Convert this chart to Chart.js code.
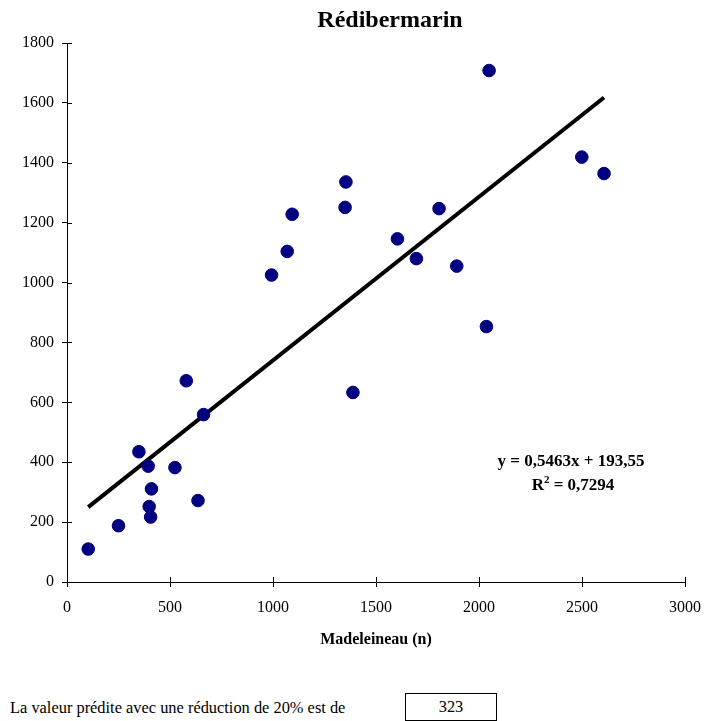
<!DOCTYPE html>
<html lang="fr">
<head>
<meta charset="UTF-8">
<title>Rédibermarin</title>
<script src="https://cdn.jsdelivr.net/npm/chart.js@4.4.0/dist/chart.umd.min.js"></script>
<style>
    body { margin: 0; background: #fff; font-family: "Liberation Serif", "Times New Roman", serif; }
    .wrap { position: relative; width: 708px; height: 721px; }
    .chart-box { position: absolute; left: 0; top: 0; width: 708px; height: 680px; }
    .pred { position: absolute; left: 10px; top: 698px; font-size: 16.4px; color: #000; }
    .pred-box { position: absolute; left: 405px; top: 693px; width: 90px; height: 26px; border: 1px solid #000;
                font-size: 16.4px; text-align: center; line-height: 26px; }
</style>
</head>
<body>
<div class="wrap">
    <div class="chart-box"><canvas id="chart"></canvas></div>
    <div class="pred">La valeur prédite avec une réduction de 20% est de</div>
    <div class="pred-box">323</div>
</div>
<script>
// données
const madeleineau = [103, 250, 349, 394, 410, 399, 406, 524, 579, 636, 663, 993, 1069, 1093, 1350, 1354, 1388, 1604, 1696, 1806, 1892, 2036, 2049, 2499, 2607];
const redibermarin = [110, 188, 435, 387, 311, 252, 217, 382, 672, 272, 559, 1025, 1104, 1228, 1251, 1336, 633, 1146, 1080, 1247, 1055, 853, 1708, 1419, 1364];
// droite de tendance (extrémités)
const trendX = [103, 2607];
const trendY = [250, 1618];
const equation = 'y = 0,5463x + 193,55';
const r2Text = ' = 0,7294';

const FONT = '"Liberation Serif", "Times New Roman", serif';

// titre, titre d'axe, équation et petits traits intérieurs
const extras = {
    id: 'extras',
    afterDraw(chart) {
        const ctx = chart.ctx;
        const xs = chart.scales.x, ys = chart.scales.y;
        ctx.save();
        ctx.strokeStyle = '#000';
        ctx.lineWidth = 1;
        ctx.beginPath();
        xs.ticks.forEach(t => {
            const px = Math.round(xs.getPixelForValue(t.value)) + 0.5;
            ctx.moveTo(px, ys.bottom);
            ctx.lineTo(px, ys.bottom - 5);
        });
        ys.ticks.forEach(t => {
            const py = Math.round(ys.getPixelForValue(t.value)) + 0.5;
            ctx.moveTo(xs.left, py);
            ctx.lineTo(xs.left + 5, py);
        });
        ctx.stroke();

        ctx.fillStyle = '#000';
        ctx.textAlign = 'center';
        ctx.textBaseline = 'alphabetic';
        ctx.font = 'bold 24px ' + FONT;
        ctx.fillText('Rédibermarin', 390, 27);

        ctx.font = 'bold 16px ' + FONT;
        ctx.textBaseline = 'middle';
        ctx.fillText('Madeleineau (n)', 376, 640);

        ctx.font = 'bold 17px ' + FONT;
        ctx.fillText(equation, 571, 462);
        // R² avec exposant
        const wR = ctx.measureText('R').width;
        const wRest = ctx.measureText(r2Text).width;
        ctx.font = 'bold 11px ' + FONT;
        const w2 = ctx.measureText('2').width;
        const total = wR + w2 + wRest;
        let x0 = 573 - total / 2;
        ctx.textAlign = 'left';
        ctx.font = 'bold 17px ' + FONT;
        ctx.fillText('R', x0, 486);
        ctx.font = 'bold 11px ' + FONT;
        ctx.fillText('2', x0 + wR, 480);
        ctx.font = 'bold 17px ' + FONT;
        ctx.fillText(r2Text, x0 + wR + w2, 486);
        ctx.restore();
    }
};

const points = madeleineau.map((x, i) => ({ x: x, y: redibermarin[i] }));
const trend = trendX.map((x, i) => ({ x: x, y: trendY[i] }));

new Chart(document.getElementById('chart'), {
    type: 'scatter',
    data: {
        datasets: [{
            label: 'Rédibermarin',
            data: points,
            backgroundColor: '#000080',
            borderColor: '#000080',
            pointRadius: 6.3,
            pointHoverRadius: 6.3,
            order: 1
        }, {
            type: 'line',
            label: 'Tendance',
            data: trend,
            borderColor: '#000',
            borderWidth: 4,
            pointRadius: 0,
            fill: false,
            order: 2
        }]
    },
    options: {
        responsive: true,
        maintainAspectRatio: false,
        animation: false,
        layout: { padding: { left: 0, top: 43, right: 23, bottom: 0 } },
        plugins: {
            legend: { display: false },
            title: { display: false },
            tooltip: { enabled: false }
        },
        scales: {
            x: {
                type: 'linear',
                min: 0,
                max: 3000,
                afterFit: s => { s.height = 98; s.paddingRight = 0; s.paddingLeft = 0; },
                border: { display: true, color: '#000', width: 1 },
                grid: { drawOnChartArea: false, drawTicks: true, tickLength: 5, color: '#000' },
                ticks: { stepSize: 500, color: '#000', padding: 11, maxRotation: 0,
                         callback: v => String(v), font: { family: FONT, size: 16 } }
            },
            y: {
                min: 0,
                max: 1800,
                afterFit: s => { s.width = 67; s.paddingTop = 0; s.paddingBottom = 0; },
                border: { display: true, color: '#000', width: 1 },
                grid: { drawOnChartArea: false, drawTicks: true, tickLength: 5, color: '#000' },
                ticks: { stepSize: 200, color: '#000', padding: 8,
                         callback: v => String(v), font: { family: FONT, size: 16 } }
            }
        }
    },
    plugins: [extras]
});
</script>
</body>
</html>
